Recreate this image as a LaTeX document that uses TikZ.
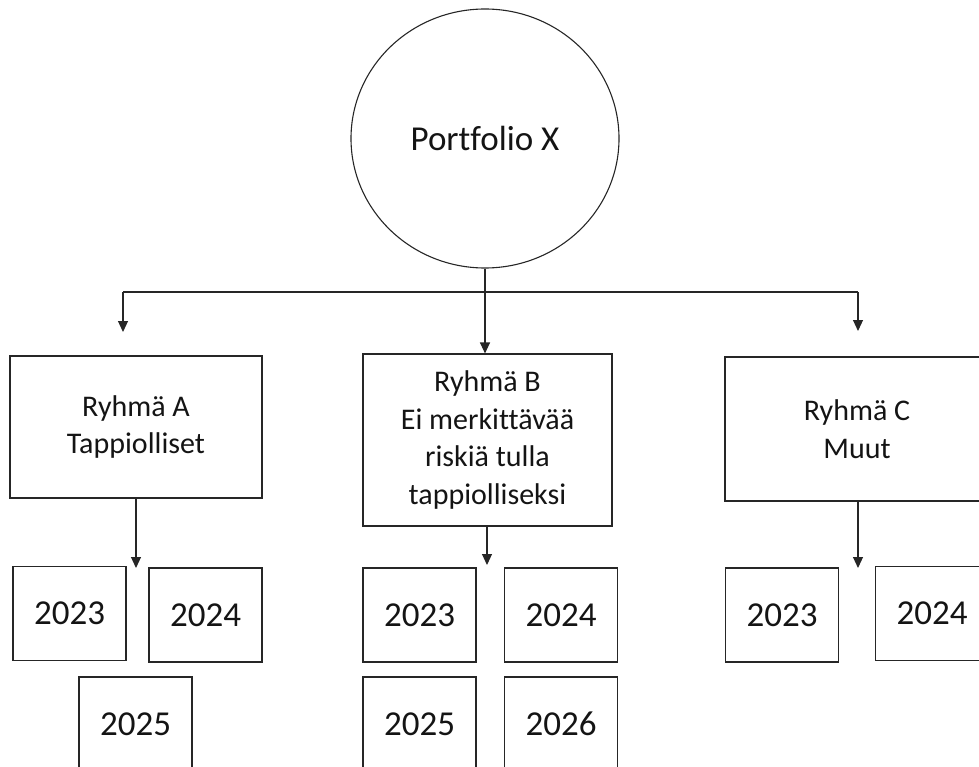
\documentclass[tikz,border=0pt]{standalone}
\usepackage{fontspec}
\setmainfont{Carlito}[Ligatures={NoCommon}]
\usetikzlibrary{arrows.meta,shapes.geometric}

\tikzset{
  line/.style={draw=black!85, line width=1.1pt},
  arr/.style={line, -{Triangle[width=10pt,length=11pt]}},
  groupbox/.style={line, rectangle, inner sep=0pt, align=center,
    font=\fontsize{30}{37.5}\selectfont, text=black!92},
  yearbox/.style={line, rectangle, inner sep=0pt, minimum width=113pt,
    minimum height=94pt, font=\fontsize{35}{40}\selectfont, text=black!92},
  rootnode/.style={line, ellipse, inner sep=0pt, minimum width=268pt,
    minimum height=259pt, font=\fontsize{35}{40}\selectfont, text=black!92}
}

\begin{document}
\begin{tikzpicture}[x=1pt, y=-1pt]
  \useasboundingbox (0,0) rectangle (979,767);
  \clip (0,0) rectangle (979,767);

  % root
  \node[rootnode] (root) at (485,138.5) {Portfolio X};

  % group boxes
  \node[groupbox, minimum width=252pt, minimum height=142pt] (ga) at (136,427)
    {Ryhmä A\\Tappiolliset};
  \node[groupbox, minimum width=249pt, minimum height=172pt] (gb) at (487.5,440)
    {Ryhmä B\\Ei merkittävää\\riskiä tulla\\tappiolliseksi};
  \node[groupbox, minimum width=264pt, minimum height=144pt] (gc) at (857,429)
    {Ryhmä C\\Muut};

  % year boxes
  \node[yearbox] (a23) at (69.5,613.5) {2023};
  \node[yearbox] (a24) at (205.5,615) {2024};
  \node[yearbox] (a25) at (135.5,724) {2025};

  \node[yearbox] (b23) at (419.5,615) {2023};
  \node[yearbox] (b24) at (561,615) {2024};
  \node[yearbox] (b25) at (419.5,724) {2025};
  \node[yearbox] (b26) at (561,724) {2026};

  \node[yearbox] (c23) at (782,615) {2023};
  \node[yearbox] (c24) at (932,613.5) {2024};

  % branch points and free arrow ends
  \coordinate (split) at (485,292);
  \coordinate (bl) at (123,292);
  \coordinate (br) at (858,292);
  \coordinate (tipa) at (123,332);
  \coordinate (tipc) at (858,331);
  \coordinate (ya) at (136,568);
  \coordinate (yb) at (487,565);
  \coordinate (yc) at (858,568);

  % tree from the root
  \draw[line] (root.south) -- (split);
  \draw[line] (bl) -- (br);
  \draw[arr] (bl) -- (tipa);
  \draw[arr] (split) -- (split |- gb.north);
  \draw[arr] (br) -- (tipc);

  % arrows to the years
  \draw[arr] (ga.south -| ya) -- (ya);
  \draw[arr] (gb.south -| yb) -- (yb);
  \draw[arr] (gc.south -| yc) -- (yc);
\end{tikzpicture}
\end{document}
